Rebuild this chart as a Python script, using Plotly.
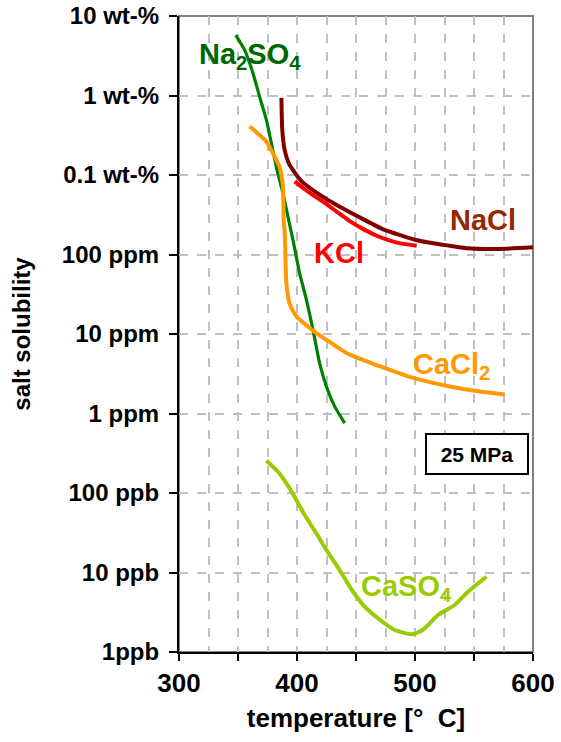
import plotly.graph_objects as go

# ---- data (temperature in deg C, log10 of solubility in ppm) ----
na2so4_T = [348.1, 355.7, 362.7, 368.4, 374.1, 378.3, 382.5, 388.1, 392.4, 396.6, 402.3, 408.0, 413.6, 419.2, 424.9, 431.9, 440.4]
na2so4_lg = [4.76, 4.57, 4.28, 3.98, 3.69, 3.40, 3.10, 2.77, 2.47, 2.18, 1.76, 1.43, 1.05, 0.63, 0.34, 0.09, -0.12]

nacl_T = [386.8, 387.5, 389.6, 393.0, 398.1, 404.0, 412.5, 423.5, 436.2, 451.4, 472.6, 501.4, 529.4, 543.8, 571.8, 600.0]
nacl_lg = [3.97, 3.57, 3.31, 3.15, 3.03, 2.92, 2.82, 2.71, 2.60, 2.48, 2.32, 2.18, 2.11, 2.08, 2.07, 2.09]

kcl_T = [398.1, 404.8, 413.3, 423.5, 434.5, 444.7, 457.4, 470.1, 484.5, 501.4]
kcl_lg = [2.92, 2.84, 2.75, 2.65, 2.53, 2.42, 2.31, 2.22, 2.15, 2.11]

cacl2_T = [359.9, 366.9, 374.1, 379.7, 385.3, 388.1, 388.7, 389.6, 391.0, 393.8, 399.5, 408.0, 416.4, 427.7, 441.9, 453.1, 467.3, 495.5, 529.4, 557.6, 576.0]
cacl2_lg = [3.61, 3.52, 3.42, 3.27, 3.10, 2.85, 2.43, 2.27, 1.64, 1.38, 1.22, 1.11, 1.01, 0.90, 0.76, 0.69, 0.61, 0.46, 0.34, 0.27, 0.24]

caso4_T = [374.1, 383.9, 393.8, 399.5, 406.5, 416.4, 424.9, 433.4, 440.4, 447.5, 457.4, 468.6, 482.8, 496.9, 502.2, 508.2, 519.5, 533.6, 544.9, 560.5]
caso4_lg = [-0.594, -0.733, -0.941, -1.088, -1.277, -1.507, -1.717, -1.906, -2.073, -2.242, -2.430, -2.576, -2.723, -2.777, -2.755, -2.702, -2.535, -2.409, -2.242, -2.053]

y_tickvals = [1e-3, 1e-2, 1e-1, 1, 10, 100, 1e3, 1e4, 1e5]
y_ticktext = ["1ppb", "10 ppb", "100 ppb", "1 ppm", "10 ppm", "100 ppm", "0.1 wt-%", "1 wt-%", "10 wt-%"]
x_tickvals = [300, 350, 400, 450, 500, 550, 600]
x_ticktext = ["300", "", "400", "", "500", "", "600"]

FONT = "Liberation Sans, Arial, sans-serif"


def pw(lg):
    return [10 ** v for v in lg]


fig = go.Figure()
series = [
    (na2so4_T, na2so4_lg, "#008000", 3.2, "Na2SO4"),
    (cacl2_T, cacl2_lg, "#ff9900", 4, "CaCl2"),
    (nacl_T, nacl_lg, "#800000", 4, "NaCl"),
    (kcl_T, kcl_lg, "#ff0000", 4, "KCl"),
    (caso4_T, caso4_lg, "#99cc00", 4, "CaSO4"),
]
for T, lg, col, w, name in series:
    fig.add_trace(go.Scatter(x=T, y=pw(lg), mode="lines", name=name,
                             line=dict(color=col, width=w, shape="spline", smoothing=0.5),
                             showlegend=False))

labels = [
    ("Na<sub>2</sub>SO<sub>4</sub>", 315, 4.50, "#006600"),
    ("NaCl", 528, 2.43, "#992600"),
    ("KCl", 413, 2.02, "#ff0000"),
    ("CaCl<sub>2</sub>", 496.5, 0.60, "#ff9900"),
    ("CaSO<sub>4</sub>", 452.5, -2.20, "#99cc00"),
]
for txt, x, y, col in labels:
    fig.add_annotation(x=x, y=y, text=txt, showarrow=False, xanchor="left", yanchor="middle",
                       font=dict(family=FONT, size=29, color=col, weight="bold"))

fig.add_annotation(x=552.3, y=-0.51, text="25 MPa", showarrow=False,
                   font=dict(family=FONT, size=21, color="black", weight="bold"),
                   bordercolor="black", borderwidth=2, bgcolor="white",
                   width=98, height=36)

# plot-area frame (grey top/right)
fig.add_shape(type="rect", xref="paper", yref="paper", x0=0, y0=0, x1=1, y1=1,
              line=dict(color="#808080", width=2), layer="below")

fig.update_xaxes(range=[300, 600], tickvals=x_tickvals, ticktext=x_ticktext,
                 ticks="outside", ticklen=7, tickwidth=2, tickcolor="black",
                 showline=True, linecolor="black", linewidth=2,
                 showgrid=True, gridcolor="#c0c0c0", griddash="dash", gridwidth=1.5,
                 minor=dict(dtick=25, showgrid=True, gridcolor="#c0c0c0", griddash="dash", gridwidth=1.5, ticks=""),
                 tickfont=dict(family=FONT, size=26, color="black", weight="bold"),
                 title=dict(text="temperature [°  C]", standoff=12,
                            font=dict(family=FONT, size=26, color="black", weight="bold")),
                 zeroline=False, automargin=False)
fig.update_yaxes(type="log", range=[-3, 5], tickvals=y_tickvals, ticktext=y_ticktext,
                 ticks="outside", ticklen=8, tickwidth=2, tickcolor="black",
                 showline=True, linecolor="black", linewidth=2,
                 showgrid=True, gridcolor="#c0c0c0", griddash="dash", gridwidth=1.5,
                 tickfont=dict(family=FONT, size=24, color="black", weight="bold"),
                 ticklabelstandoff=5,
                 title=dict(text="salt solubility", standoff=24,
                            font=dict(family=FONT, size=24, color="black", weight="bold")),
                 zeroline=False, automargin=False)

fig.update_layout(width=561, height=742, margin=dict(l=179, r=28, t=16, b=90, autoexpand=False),
                  paper_bgcolor="white", plot_bgcolor="white")

fig.write_html("out.html", config={"displayModeBar": False},
               post_script="document.body.style.margin='0';document.body.style.overflow='hidden';")
